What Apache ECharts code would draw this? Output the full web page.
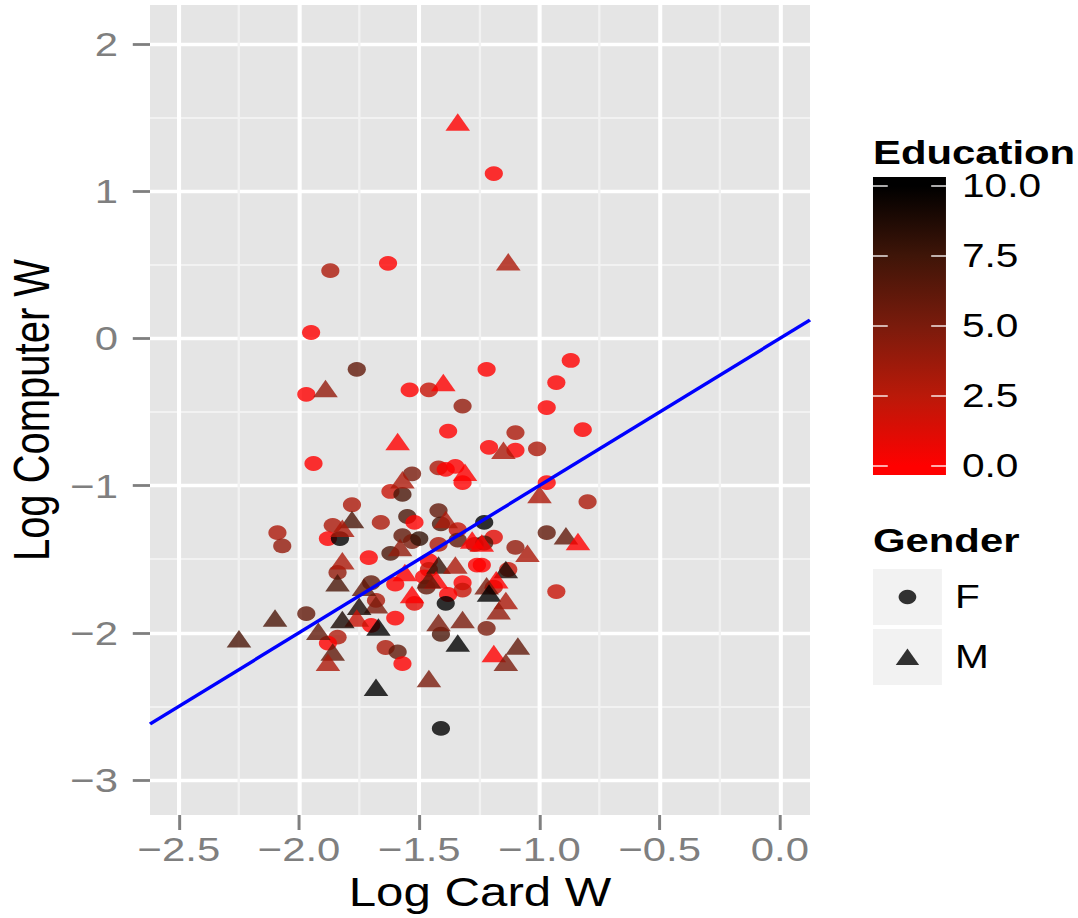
<!DOCTYPE html>
<html><head><meta charset="utf-8">
<script src="https://cdn.jsdelivr.net/npm/echarts@6/dist/echarts.min.js"></script>
<style>
html,body{margin:0;padding:0;background:#fff;overflow:hidden}
#wrap{width:1078px;height:918px;overflow:hidden;position:relative}
#chart{width:876px;height:918px;transform:scaleX(1.2306);transform-origin:0 0}
</style></head>
<body><div id="wrap"><div id="chart"></div></div>
<script>
// ---- data ----
const femaleX = [-1.19,-1.87,-1.63,-1.95,-1.76,-1.97,-1.54,-1.46,-1.32,-1.38,-1.22,-0.87,-0.93,-0.97,-1.10,-0.82,-1.94,-1.42,-1.35,-1.32,-1.39,-1.53,-1.62,-1.57,-1.78,-1.86,-1.88,-1.83,-2.09,-2.07,-1.66,-1.55,-1.52,-1.57,-1.53,-1.50,-1.62,-1.71,-1.42,-1.41,-1.34,-1.34,-1.42,-1.27,-1.84,-1.46,-1.26,-1.46,-1.48,-1.47,-1.32,-1.32,-1.60,-1.52,-1.70,-1.68,-1.38,-1.39,-1.60,-1.70,-1.97,-1.84,-1.88,-1.41,-1.64,-1.59,-1.57,-1.41,-1.21,-1.10,-1.01,-0.97,-0.80,-1.23,-1.19,-1.23,-0.97,-1.10,-1.24,-1.13,-1.19,-0.93,-1.22];
const femaleY = [1.12,0.46,0.51,0.04,-0.21,-0.38,-0.35,-0.35,-0.46,-0.63,-0.21,-0.15,-0.30,-0.47,-0.64,-0.62,-0.85,-0.88,-0.87,-0.98,-0.89,-0.92,-1.04,-1.06,-1.13,-1.27,-1.36,-1.36,-1.32,-1.41,-1.25,-1.21,-1.25,-1.34,-1.38,-1.36,-1.46,-1.49,-1.17,-1.26,-1.30,-1.37,-1.40,-1.40,-1.59,-1.51,-1.54,-1.57,-1.62,-1.69,-1.66,-1.71,-1.67,-1.80,-1.66,-1.78,-1.74,-1.80,-1.90,-1.95,-1.87,-2.03,-2.07,-2.01,-2.10,-2.13,-2.21,-2.65,-0.74,-0.76,-0.75,-0.98,-1.11,-1.25,-1.35,-1.39,-1.32,-1.42,-1.54,-1.57,-1.69,-1.72,-1.97];
const femaleEdu = [0,3,0,0,6,0,0,2,4,0,0,0,0,0,3,0,0,3,0,0,0,5,2,7,3,3,0,10,3,4,3,7,0,6,5,8,7,0,6,7,2,6,3,5,4,0,0,2,0,6,0,2,0,1,6,3,0,10,0,0,6,3,0,7,3,6,0,10,0,0,3,0,3,10,1,7,6,4,0,2,2,2,5];

const maleX = [-1.34,-1.13,-1.89,-1.40,-1.59,-1.31,-1.57,-1.78,-1.82,-1.58,-1.39,-1.28,-1.82,-1.84,-1.42,-1.35,-1.56,-1.43,-1.46,-1.53,-1.73,-1.68,-1.75,-1.76,-1.82,-1.67,-2.10,-2.25,-1.92,-1.86,-1.88,-1.42,-1.32,-1.34,-1.68,-1.46,-1.15,-1.00,-1.24,-0.89,-0.84,-1.05,-1.14,-1.18,-1.22,-1.21,-1.14,-1.17,-1.09,-1.19,-1.14];
const maleY = [1.47,0.52,-0.34,-0.30,-0.70,-0.91,-0.96,-1.23,-1.29,-1.42,-1.23,-1.37,-1.51,-1.66,-1.54,-1.54,-1.59,-1.64,-1.64,-1.74,-1.69,-1.81,-1.82,-1.90,-1.91,-1.96,-1.90,-2.04,-1.99,-2.13,-2.20,-1.93,-1.91,-2.07,-2.37,-2.31,-0.76,-1.06,-1.39,-1.34,-1.38,-1.46,-1.57,-1.64,-1.68,-1.73,-1.78,-1.85,-2.09,-2.14,-2.20];
const maleEdu = [0,3,4,0,0,0,3,7,3,4,3,0,3,7,8,3,0,0,6,0,6,5,9,2,9,10,7,7,6,6,3,5,5,10,10,5,3,3,0,6,0,3,9,0,5,10,3,4,6,0,5];

// reference line (slope 1 through origin), two end points
const fitLine = [[-2.62,-2.62],[0.125,0.125]];

// axis ticks
const xMajor = [-2.5,-2.0,-1.5,-1.0,-0.5,0.0];
const xMinor = [-2.25,-1.75,-1.25,-0.75,-0.25];
const yMajor = [-3,-2,-1,0,1,2];
const yMinor = [-2.5,-1.5,-0.5,0.5,1.5];
const xRange = [-2.62,0.125];
const yRange = [-3.238,2.265];

// colour legend
const eduTicks = [0,2.5,5,7.5,10];
const eduTickLabels = ['0.0','2.5','5.0','7.5','10.0'];
const eduColors = ['#ff0000','#ba1909','#7a1b0c','#3f1508','#000000'];
const genderLabels = ['F','M'];

// ---- build ----
const FONT = '"Liberation Sans", Arial, sans-serif';
function fmt(v, d){ const s = Math.abs(v).toFixed(d); return v < 0 ? '\u2212' + s : s; }
const femaleData = femaleX.map((x,i)=>[x, femaleY[i], femaleEdu[i]]);
const maleData = maleX.map((x,i)=>[x, maleY[i], maleEdu[i]]);

const chart = echarts.init(document.getElementById('chart'), null, {renderer:'svg', width:876, height:918});

// legend geometry (inner coordinates; chart is stretched horizontally by css)
const LX = 709.4, BAR_W = 59.3, BAR_TOP = 177, BAR_BOT = 475;
const Y0 = 466, Y10 = 186;
function eduY(v){ return Y0 + (Y10 - Y0) * v / 10; }

const graphics = [];
graphics.push({type:'text', x:LX, y:152, style:{text:'Education', font:'bold 34px ' + FONT, fill:'#000', textAlign:'left', textVerticalAlign:'middle'}});
const stops = eduTicks.map((v,i)=>({offset:(eduY(v)-BAR_TOP)/(BAR_BOT-BAR_TOP), color:eduColors[i]})).reverse();
graphics.push({type:'rect', shape:{x:LX, y:BAR_TOP, width:BAR_W, height:BAR_BOT-BAR_TOP},
  style:{fill:new echarts.graphic.LinearGradient(0,0,0,1,[{offset:0,color:'#000'}].concat(stops).concat([{offset:1,color:'#ff0000'}]))}});
eduTicks.forEach((v,i)=>{
  const y = eduY(v);
  graphics.push({type:'line', shape:{x1:LX, y1:y, x2:LX+12, y2:y}, style:{stroke:'#fff', lineWidth:1.5, opacity:0.9}});
  graphics.push({type:'line', shape:{x1:LX+BAR_W-12, y1:y, x2:LX+BAR_W, y2:y}, style:{stroke:'#fff', lineWidth:1.5, opacity:0.9}});
  graphics.push({type:'text', x:781.7, y:y, style:{text:eduTickLabels[i], font:'33px ' + FONT, fill:'#000', textAlign:'left', textVerticalAlign:'middle'}});
});
graphics.push({type:'text', x:LX, y:540, style:{text:'Gender', font:'bold 34px ' + FONT, fill:'#000', textAlign:'left', textVerticalAlign:'middle'}});
const keyTops = [569, 629];
keyTops.forEach((t,i)=>{
  graphics.push({type:'rect', shape:{x:LX, y:t, width:56, height:56}, style:{fill:'#f2f2f2'}});
  const cx = LX + 28, cy = t + 28;
  if (i === 0) {
    graphics.push({type:'circle', shape:{cx:cx, cy:cy, r:7.2}, style:{fill:'#000', opacity:0.8}});
  } else {
    graphics.push({type:'polygon', shape:{points:[[cx-9.5,cy+8],[cx+9.5,cy+8],[cx,cy-8.5]]}, style:{fill:'#000', opacity:0.8}});
  }
  graphics.push({type:'text', x:776, y:cy, style:{text:genderLabels[i], font:'33px ' + FONT, fill:'#000', textAlign:'left', textVerticalAlign:'middle'}});
});

const gridDef = {left:121.9, right:217.8, top:5, bottom:103, show:true, backgroundColor:'#e5e5e5', borderWidth:0, containLabel:false, outerBoundsMode:'none'};

const option = {
  animation:false,
  textStyle:{fontFamily:FONT},
  grid: gridDef,
  xAxis:[
    {type:'value', min:xRange[0], max:xRange[1], position:'bottom',
      axisLine:{show:false, onZero:false}, axisTick:{show:false, customValues:xMinor},
      axisLabel:{show:false}, splitLine:{show:true, lineStyle:{color:'#f2f2f2', width:1.9}}},
    {type:'value', min:xRange[0], max:xRange[1], position:'bottom',
      name:'Log Card W', nameLocation:'middle', nameGap:57,
      nameTextStyle:{fontSize:40, color:'#000', fontFamily:FONT},
      axisLine:{show:false, onZero:false},
      axisTick:{show:true, customValues:xMajor, length:15, lineStyle:{color:'#7f7f7f', width:2.4}},
      axisLabel:{customValues:xMajor, formatter:v=>fmt(v,1), fontSize:34, color:'#7f7f7f', margin:17, fontFamily:FONT},
      splitLine:{show:true, lineStyle:{color:'#ffffff', width:3.3}}}
  ],
  yAxis:[
    {type:'value', min:yRange[0], max:yRange[1], position:'left',
      axisLine:{show:false, onZero:false}, axisTick:{show:false, customValues:yMinor},
      axisLabel:{show:false}, splitLine:{show:true, lineStyle:{color:'#f2f2f2', width:2}}},
    {type:'value', min:yRange[0], max:yRange[1], position:'left',
      name:'Log Computer W', nameLocation:'middle', nameGap:70,
      nameTextStyle:{fontSize:40, color:'#000', fontFamily:FONT},
      axisLine:{show:false, onZero:false},
      axisTick:{show:true, customValues:yMajor, length:14, lineStyle:{color:'#7f7f7f', width:2.8}},
      axisLabel:{customValues:yMajor, formatter:v=>fmt(v,0), fontSize:34, color:'#7f7f7f', margin:26, fontFamily:FONT},
      splitLine:{show:true, lineStyle:{color:'#ffffff', width:3.3}}}
  ],
  visualMap:{type:'continuous', show:false, dimension:2, min:0, max:10, seriesIndex:[0,1], inRange:{color:eduColors}},
  series:[
    {name:'F', type:'scatter', xAxisIndex:0, yAxisIndex:0, symbol:'circle', symbolSize:14.8, data:femaleData, itemStyle:{opacity:0.8}, z:3},
    {name:'M', type:'scatter', xAxisIndex:0, yAxisIndex:0, symbol:'triangle', symbolSize:[20,17.5], data:maleData, itemStyle:{opacity:0.8}, z:3},
    {name:'fit', type:'line', xAxisIndex:0, yAxisIndex:0, data:fitLine, showSymbol:false, symbol:'none', lineStyle:{color:'#0000ff', width:3.2}, z:5, silent:true}
  ],
  graphic:{elements:graphics}
};
chart.setOption(option);
</script>
</body></html>
